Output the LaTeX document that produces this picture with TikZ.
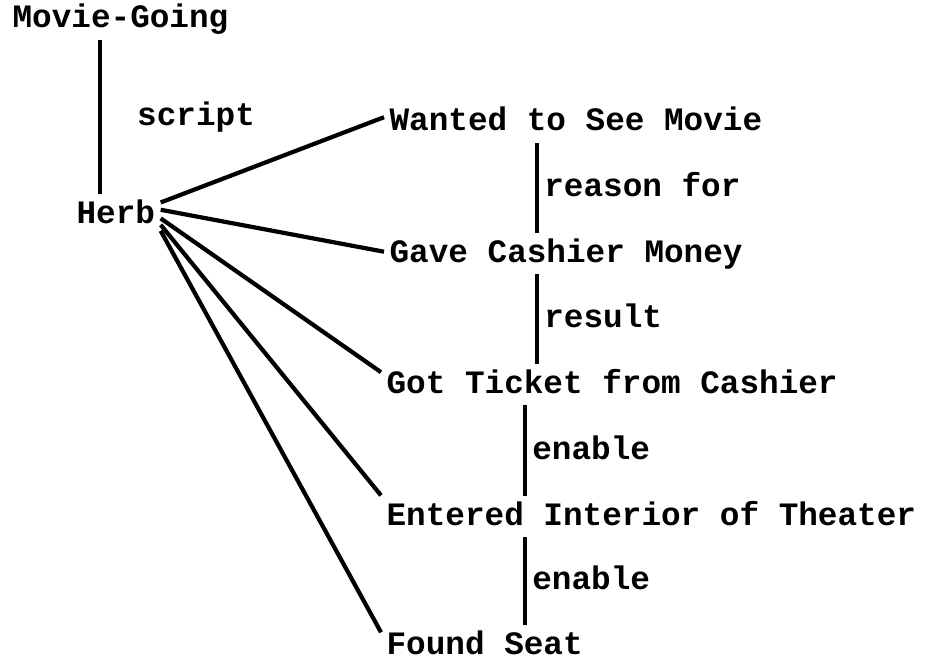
\documentclass[tikz,border=0pt]{standalone}
\usepackage{fontspec}
\setmainfont{Liberation Mono}
\usepackage{tikz}

\begin{document}
\begin{tikzpicture}[x=0.02cm, y=-0.02cm,
	txt/.style={font=\fontsize{18.6}{22}\selectfont\bfseries, inner sep=3pt, text height=13.5pt, text depth=3.8pt},
	event/.style={txt, anchor=base west},
	tie/.style={line width=2.4pt}]
\useasboundingbox (0,0) rectangle (929,662);

\node[event] (mg) at (7,28) {Movie-Going};
\node[event] (herb) at (71,223) {Herb};
\node[event] (want) at (384,131) {Wanted to See Movie};
\node[event] (gave) at (384,262) {Gave Cashier Money};
\node[event] (got) at (381,393) {Got Ticket from Cashier};
\node[event] (entered) at (381,525) {Entered Interior of Theater};
\node[event] (found) at (381,654) {Found Seat};

\coordinate (colM) at (100,0);
\coordinate (colA) at (537,0);
\coordinate (colB) at (525,0);

\path[tie]
(mg.south -| colM) edge node [txt, right, xshift=17pt] {script} (herb.north -| colM)
(want.south -| colA) edge node [txt, right] {reason for} (gave.north -| colA)
(gave.south -| colA) edge node [txt, right] {result} (got.north -| colA)
(got.south -| colB) edge node [txt, right] {enable} (entered.north -| colB)
(entered.south -| colB) edge node [txt, right] {enable} (found.north -| colB)
;
\path[tie]
(herb.15) edge ([yshift=3pt]want.west)
(herb.6) edge ([yshift=1pt]gave.west)
(herb.-5) edge ([yshift=7pt]got.west)
(herb.-13) edge ([yshift=12pt]entered.west)
(herb.-20) edge ([yshift=7.5pt]found.west)
;
\end{tikzpicture}
\end{document}
